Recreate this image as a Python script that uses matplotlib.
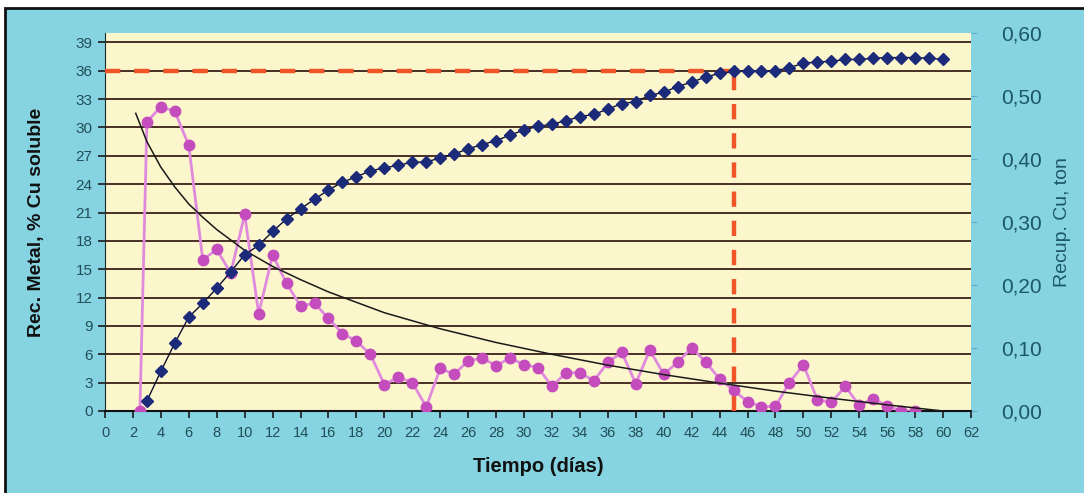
import numpy as np
import matplotlib
matplotlib.use("Agg")
import matplotlib.pyplot as plt
from matplotlib.patches import Rectangle
from matplotlib.ticker import FuncFormatter

# datos
dias_cu = [2.5, 3, 4, 5, 6, 7, 8, 9, 10, 11, 12, 13, 14, 15, 16, 17, 18, 19, 20,
           21, 22, 23, 24, 25, 26, 27, 28, 29, 30, 31, 32, 33, 34, 35, 36, 37, 38,
           39, 40, 41, 42, 43, 44, 45, 46, 47, 48, 49, 50, 51, 52, 53, 54, 55, 56,
           57, 58]
cu_soluble = [0.0, 30.6, 32.2, 31.7, 28.1, 16.0, 17.1, 14.6, 20.8, 10.3, 16.5, 13.5,
              11.1, 11.4, 9.8, 8.2, 7.4, 6.0, 2.8, 3.6, 3.0, 0.45, 4.5, 3.9, 5.3, 5.6,
              4.8, 5.6, 4.9, 4.6, 2.6, 4.05, 4.05, 3.2, 5.15, 6.2, 2.9, 6.45, 3.9, 5.15,
              6.7, 5.2, 3.4, 2.2, 1.0, 0.45, 0.5, 3.0, 4.9, 1.2, 0.9, 2.6, 0.6, 1.3,
              0.55, 0.0, 0.0]

dias_rec = list(range(3, 61))
recup_ton = [0.016, 0.063, 0.108, 0.149, 0.171, 0.195, 0.221, 0.248, 0.263, 0.285,
             0.305, 0.321, 0.336, 0.351, 0.363, 0.372, 0.381, 0.386, 0.390, 0.395,
             0.395, 0.402, 0.408, 0.416, 0.423, 0.429, 0.438, 0.446, 0.452, 0.455,
             0.461, 0.467, 0.471, 0.479, 0.488, 0.491, 0.501, 0.506, 0.515, 0.522,
             0.530, 0.536, 0.539, 0.540, 0.540, 0.540, 0.545, 0.552, 0.554, 0.555,
             0.558, 0.558, 0.560, 0.561, 0.561, 0.561, 0.560, 0.558]

# tendencia
dias_tend = [2.2, 3, 4, 5, 6, 7, 8, 10, 12, 14, 16, 18, 20, 24, 28, 32, 36, 40, 44,
             48, 52, 56, 60]
tendencia = [31.5, 28.5, 25.8, 23.7, 21.9, 20.5, 19.2, 17.0, 15.3, 13.9, 12.6, 11.5,
             10.4, 8.7, 7.25, 6.0, 4.85, 3.85, 2.95, 2.1, 1.35, 0.65, 0.0]

meta_rec = 36
meta_dia = 45

xticks = list(range(0, 63, 2))
yticks_izq = list(range(0, 40, 3))
yticks_der = [0.0, 0.1, 0.2, 0.3, 0.4, 0.5, 0.6]

azul_fondo = '#86d3e1'
amarillo = '#fbf6cc'
teal = '#214f58'

plt.rcParams['lines.scale_dashes'] = False
plt.rcParams['font.family'] = ['Liberation Sans', 'DejaVu Sans']

fig = plt.figure(figsize=(10.84, 4.93), dpi=100, facecolor='white')
fondo = Rectangle((5 / 1084, -0.05), 1.1, 1 - 8 / 493 + 0.05,
                  transform=fig.transFigure, facecolor=azul_fondo,
                  edgecolor='#111111', linewidth=2, zorder=-10)
fig.add_artist(fondo)

ax = fig.add_axes([105 / 1084, 1 - 411 / 493, 866 / 1084, 378 / 493])
ax.set_facecolor(amarillo)
ax.set_xlim(0, 62)
ax.set_ylim(0, 40)
ax.set_xticks(xticks)
ax.set_yticks(yticks_izq)
for y in yticks_izq[1:]:
    ax.axhline(y, color='#3a2018', lw=1.3, zorder=1)

ax.tick_params(axis='x', direction='out', length=5, width=1.2, colors='#1a1a1a',
               labelcolor=teal, labelsize=10.5, pad=6)
ax.tick_params(axis='y', direction='out', length=5, width=1.2, colors='#1a1a1a',
               labelcolor=teal, labelsize=11, pad=4)
for s in ['top', 'right']:
    ax.spines[s].set_visible(False)
ax.spines['left'].set_color('#1a2a2a')
ax.spines['bottom'].set_color('#111111')
ax.spines['bottom'].set_linewidth(1.5)

# linea meta
ax.plot([0, meta_dia], [meta_rec, meta_rec], color='#f05528', lw=3.2,
        dashes=(11, 10), zorder=3)
ax.plot([meta_dia, meta_dia], [0, meta_rec], color='#f05528', lw=3.2,
        dashes=(11, 10), zorder=3)

ax.plot(dias_cu, cu_soluble, color='#e08ade', lw=2, marker='o', markersize=7.5,
        markerfacecolor='#c44cbc', markeredgecolor='#c44cbc', zorder=4)
ax.plot(dias_tend, tendencia, color='#1a1a1a', lw=1.1, zorder=5)

ax.set_xlabel('Tiempo (días)', fontsize=14.5, fontweight='bold', color='#111111',
              labelpad=12)
ax.set_ylabel('Rec. Metal, % Cu soluble', fontsize=14, fontweight='bold',
              color='#111111', labelpad=22)

ax2 = ax.twinx()
ax2.set_ylim(0, 0.6)
ax2.set_yticks(yticks_der)
ax2.yaxis.set_major_formatter(FuncFormatter(lambda v, p: f"{v:.2f}".replace('.', ',')))
for s in ['top', 'left', 'bottom', 'right']:
    ax2.spines[s].set_visible(False)
ax2.tick_params(axis='y', direction='out', length=4, colors='#5aaec5',
                labelcolor='#1d5866', labelsize=15, pad=18)
ax2.plot(dias_rec, recup_ton, color='#101030', lw=1, marker='D', markersize=6,
         markerfacecolor='#1c2a7a', markeredgecolor='#1c2a7a', zorder=6)
ax2.set_ylabel('Recup. Cu, ton', fontsize=14, color='#1d5866', labelpad=8)

fig.savefig('out.png', dpi=100, facecolor=fig.get_facecolor())
